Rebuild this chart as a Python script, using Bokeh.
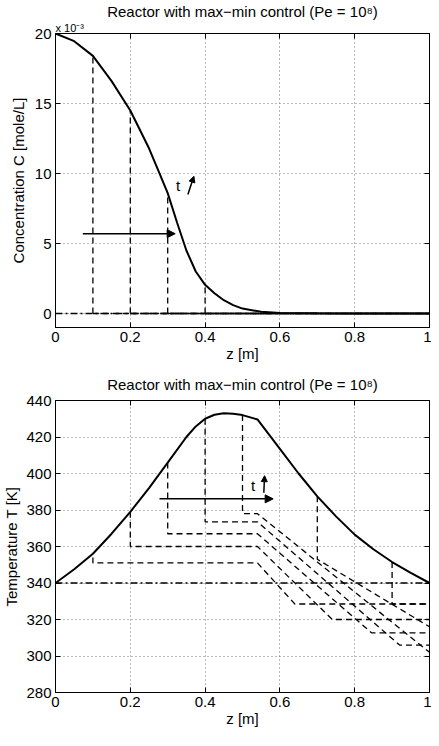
from bokeh.plotting import figure
from bokeh.layouts import column
from bokeh.models import Arrow, NormalHead, Label, Range1d, FixedTicker, Title, LinearAxis
from bokeh.embed import file_html
from bokeh.resources import INLINE

FONT = "Liberation Sans"
FS = "15px"
TITLE_TEXT = "Reactor with max\u2212min control (Pe = 10\u2078)"

# ---------------- data: concentration ----------------
z_conc = [0, 0.05, 0.1, 0.15, 0.2, 0.25, 0.275, 0.3, 0.325, 0.35, 0.375, 0.4,
          0.425, 0.45, 0.475, 0.5, 0.55, 0.6, 0.7, 0.8, 0.9, 1.0]
conc = [20.0, 19.45, 18.4, 16.6, 14.5, 11.8, 10.2, 8.6, 6.5, 4.5, 3.0, 2.05,
        1.45, 0.95, 0.6, 0.35, 0.12, 0.04, 0.01, 0.0, 0.0, 0.0]
conc_front_z = [0.1, 0.2, 0.3, 0.4]
conc_front_c = [18.4, 14.5, 8.6, 2.05]
conc_ticks = [0, 5, 10, 15, 20]

# ---------------- data: temperature ----------------
z_temp = [0, 0.05, 0.1, 0.15, 0.2, 0.25, 0.3, 0.35, 0.375, 0.4, 0.425, 0.45, 0.475,
          0.5, 0.54, 0.6, 0.65, 0.7, 0.75, 0.8, 0.85, 0.9, 0.95, 1.0]
temp = [340, 347.5, 356, 367, 379, 392, 406, 420, 425.8, 430, 432.2, 433, 432.7,
        432, 429.6, 413.5, 400, 387.5, 376.5, 366.5, 358.5, 351.5, 345.5, 340]
T_init = 340
# early profiles (front inside heating zone)
prof_front = [0.1, 0.2, 0.3, 0.4, 0.5]
prof_top = [354, 379, 406, 430, 432]
prof_level = [351, 360, 367, 373.5, 378]
prof_knee = [0.54, 0.54, 0.54, 0.54, 0.54]
prof_low_z = [0.64, 0.74, 0.845, 0.92, 1.0]
prof_low = [328.5, 320, 312.7, 306, 302]
# late profiles (front inside cooling zone)
late_front = [0.7, 0.9]
late_top = [387.5, 351.5]
late_level = [353, 328.5]
late_end = [316, 328.5]
temp_ticks = [280, 300, 320, 340, 360, 380, 400, 420, 440]
z_ticks = [0, 0.2, 0.4, 0.6, 0.8, 1.0]
z_labels = ["0", "0.2", "0.4", "0.6", "0.8", "1"]

DASH = "6 4"
DASHDOT = "7 3 2 3"


def mirror_axis(ticks):
    return LinearAxis(ticker=FixedTicker(ticks=ticks), major_label_text_color=None,
                      major_tick_in=5, major_tick_out=0, minor_tick_line_color=None,
                      axis_line_color="black", major_tick_line_color="black",
                      major_label_standoff=0)


def style(p, yticks):
    p.outline_line_color = "black"
    p.outline_line_width = 1
    p.grid.grid_line_color = "#777777"
    p.grid.grid_line_dash = "1 3"
    p.grid.grid_line_width = 1
    p.xgrid.ticker = FixedTicker(ticks=z_ticks)
    p.ygrid.ticker = FixedTicker(ticks=yticks)
    for ax in p.axis:
        ax.major_label_text_font = FONT
        ax.major_label_text_font_size = FS
        ax.major_label_text_color = "black"
        ax.axis_label_text_font = FONT
        ax.axis_label_text_font_size = FS
        ax.axis_label_text_font_style = "normal"
        ax.axis_label_text_color = "black"
        ax.major_tick_in = 5
        ax.major_tick_out = 0
        ax.minor_tick_line_color = None
        ax.axis_line_color = "black"
        ax.major_tick_line_color = "black"
    p.xaxis.ticker = FixedTicker(ticks=z_ticks)
    p.xaxis.major_label_overrides = {t: l for t, l in zip(z_ticks, z_labels)}
    p.yaxis.ticker = FixedTicker(ticks=yticks)
    p.xaxis.axis_label = "z [m]"
    p.xaxis.major_label_standoff = 4
    p.xaxis.axis_label_standoff = 0
    p.yaxis.major_label_standoff = 4
    # mirrored inward ticks on the right and top edges (no labels)
    p.add_layout(mirror_axis(yticks), "right")
    p.above = [mirror_axis(z_ticks)] + list(p.above)


def main_title(standoff):
    return Title(text=TITLE_TEXT, align="center", text_font=FONT, text_font_size=FS,
                 text_font_style="normal", text_color="black", standoff=standoff)


# ---------------- top figure ----------------
p1 = figure(width=431, height=365, x_range=Range1d(0, 1), y_range=Range1d(-1, 20),
            output_backend="svg", toolbar_location=None,
            min_border_left=44, min_border_right=2, min_border_top=30, min_border_bottom=38)
style(p1, conc_ticks)
p1.yaxis[0].axis_label = "Concentration C [mole/L]"
p1.yaxis[0].axis_label_standoff = 5
p1.add_layout(Title(text="x 10\u207b\u00b3", align="left", text_font=FONT, text_font_size="11px",
                    text_font_style="normal", text_color="black", standoff=0, offset=0), "above")
p1.add_layout(main_title(0), "above")

p1.line([0, 1], [0, 0], line_color="black", line_width=1.3, line_dash=DASHDOT)
for zf, cf in zip(conc_front_z, conc_front_c):
    p1.line([zf, zf], [0, cf], line_color="black", line_width=1.3, line_dash=DASH)
    p1.line([zf, 1], [0, 0], line_color="black", line_width=1.3, line_dash=DASH)
p1.line(z_conc, conc, line_color="black", line_width=2)

p1.add_layout(Arrow(end=NormalHead(size=8, fill_color="black", line_color="black"),
                    x_start=0.073, y_start=5.7, x_end=0.32, y_end=5.7,
                    line_color="black", line_width=1.5))
p1.add_layout(Arrow(end=NormalHead(size=6, fill_color="black", line_color="black"),
                    x_start=0.354, y_start=8.5, x_end=0.37, y_end=9.8,
                    line_color="black", line_width=1.5))
p1.add_layout(Label(x=0.328, y=9.17, text="t", text_font=FONT, text_font_size=FS,
                    text_align="center", text_baseline="middle", text_color="black"))

# ---------------- bottom figure ----------------
p2 = figure(width=431, height=365, x_range=Range1d(0, 1), y_range=Range1d(280, 440),
            output_backend="svg", toolbar_location=None,
            min_border_left=50, min_border_right=2, min_border_top=33, min_border_bottom=38)
style(p2, temp_ticks)
p2.yaxis[0].axis_label = "Temperature T [K]"
p2.yaxis[0].axis_label_standoff = 3
p2.add_layout(main_title(16), "above")

p2.line([0, 1], [T_init, T_init], line_color="black", line_width=1.3, line_dash=DASHDOT)
for zf, tt, lv, kn, lz, lo in zip(prof_front, prof_top, prof_level, prof_knee, prof_low_z, prof_low):
    xs = [zf, zf, kn, lz, 1.0]
    ys = [tt, lv, lv, lo, lo]
    p2.line(xs, ys, line_color="black", line_width=1.3, line_dash=DASH)
for zf, tt, lv, le in zip(late_front, late_top, late_level, late_end):
    p2.line([zf, zf, 1.0], [tt, lv, le], line_color="black", line_width=1.3, line_dash=DASH)
p2.line(z_temp, temp, line_color="black", line_width=2)

p2.add_layout(Arrow(end=NormalHead(size=8, fill_color="black", line_color="black"),
                    x_start=0.278, y_start=386.1, x_end=0.582, y_end=386.1,
                    line_color="black", line_width=1.5))
p2.add_layout(Arrow(end=NormalHead(size=6, fill_color="black", line_color="black"),
                    x_start=0.557, y_start=389.5, x_end=0.559, y_end=398.8,
                    line_color="black", line_width=1.5))
p2.add_layout(Label(x=0.528, y=393.3, text="t", text_font=FONT, text_font_size=FS,
                    text_align="center", text_baseline="middle", text_color="black"))

layout = column(p1, p2)
open("out.html", "w").write(file_html(layout, INLINE))
